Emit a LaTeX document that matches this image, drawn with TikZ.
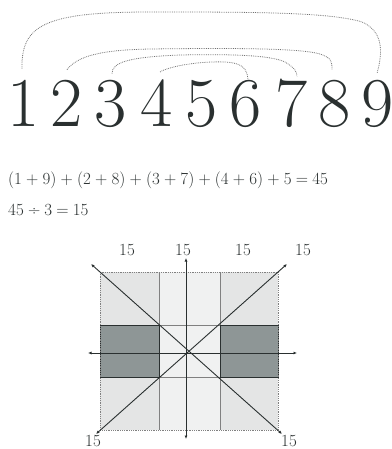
\documentclass[tikz,border=0pt]{standalone}
\usepackage{fontspec}
\usetikzlibrary{arrows.meta}
\definecolor{cellLight}{HTML}{E4E5E5}
\definecolor{cellMid}{HTML}{F0F1F1}
\definecolor{cellDark}{HTML}{8E9696}
\definecolor{inkDark}{HTML}{2A3030}
\newcommand\eqspacing{\spaceskip=4.2pt plus 0pt minus 0pt\relax}
\begin{document}
\begin{tikzpicture}[x=1pt,y=-1pt,
  digit/.style={font=\fontsize{70}{70}\selectfont, inner sep=0pt, anchor=base, text=inkDark},
  arcline/.style={black!55, densely dotted, line width=0.8pt},
  eqtext/.style={font=\fontsize{17}{17}\selectfont, inner sep=0pt, anchor=base west, text=inkDark},
  lbl/.style={font=\fontsize{17}{17}\selectfont, inner sep=0pt, anchor=base, text=inkDark},
  tipped/.style={inkDark, line width=0.9pt, {Latex[length=3.5pt,width=3pt]}-{Latex[length=3.5pt,width=3pt]}},
  gridline/.style={black!50, line width=0.7pt},
  darkline/.style={inkDark, line width=0.9pt},
  border/.style={gray, densely dotted, line width=0.8pt}]
\useasboundingbox (0,0) rectangle (391,449);

% digits
\node[digit] (d1) at (24,127) {1};
\node[digit] (d2) at (67,127) {2};
\node[digit] (d3) at (111,127) {3};
\node[digit] (d4) at (157,127) {4};
\node[digit] (d5) at (202,127) {5};
\node[digit] (d6) at (246,127) {6};
\node[digit] (d7) at (292,127) {7};
\node[digit] (d8) at (335,127) {8};
\node[digit] (d9) at (378,127) {9};

% pairing arcs
\draw[arcline] ([xshift=-2pt,yshift=12pt]d1.north) .. controls (21,25) and (45,12) .. (150,12)
  .. controls (250,12) and (330,12) .. (362,22)
  .. controls (385,32) and (382,55) .. ([xshift=-1pt,yshift=7pt]d9.north);
\draw[arcline] ([yshift=11pt]d2.north) .. controls (78,56) and (100,50) .. (150,49)
  .. controls (230,48) and (300,48) .. (320,54)
  .. controls (332,58) and (332,62) .. ([xshift=-3pt,yshift=11pt]d8.north);
\draw[arcline] ([xshift=1pt,yshift=7pt]d3.north) .. controls (112,62) and (130,57) .. (180,55)
  .. controls (230,54) and (270,55) .. (285,62)
  .. controls (295,68) and (297,72) .. ([xshift=5pt,yshift=3pt]d7.north);
\draw[arcline] ([xshift=3pt,yshift=8pt]d4.north) .. controls (170,66) and (200,61) .. (225,62)
  .. controls (242,63) and (247,68) .. ([xshift=2pt,yshift=1pt]d6.north);

% equations
\node[eqtext] (eq1) at (8,184) {\eqspacing (1 + 9) + (2 + 8) + (3 + 7) + (4 + 6) + 5 = 45};
\node[eqtext] (eq2) at (8,215) {\eqspacing 45 ÷ 3 = 15};

% grid cells
\fill[cellLight] (100,272) rectangle (278,430);
\fill[cellMid] (159,272) rectangle (220,430);
\fill[cellDark] (100,325) rectangle (159,377);
\fill[cellDark] (220,325) rectangle (278,377);
\draw[gridline] (159,272) -- (159,430);
\draw[gridline] (220,272) -- (220,430);
\draw[gridline] (159,325) -- (220,325);
\draw[gridline] (159,377) -- (220,377);
\draw[darkline] (100,325) rectangle (159,377);
\draw[darkline] (220,325) rectangle (278,377);
\draw[border] (100,272) rectangle (278,430);

% axes and diagonals
\coordinate (hl) at (88,353);
\coordinate (hr) at (297,353);
\coordinate (vt) at (186,258);
\coordinate (vb) at (186,439);
\coordinate (tl) at (91,264);
\coordinate (br) at (282,434);
\coordinate (bl) at (96,434);
\coordinate (tr) at (287,264);
\draw[tipped] (hl) -- (hr);
\draw[tipped] (vt) -- (vb);
\draw[tipped] (tl) -- (br);
\draw[tipped] (bl) -- (tr);

% sums
\node[lbl] (s1) at (127,255) {15};
\node[lbl] (s2) at (183,255) {15};
\node[lbl] (s3) at (243,255) {15};
\node[lbl] (s4) at (303,255) {15};
\node[lbl] (s5) at (93,446) {15};
\node[lbl] (s6) at (289,446) {15};
\end{tikzpicture}
\end{document}
